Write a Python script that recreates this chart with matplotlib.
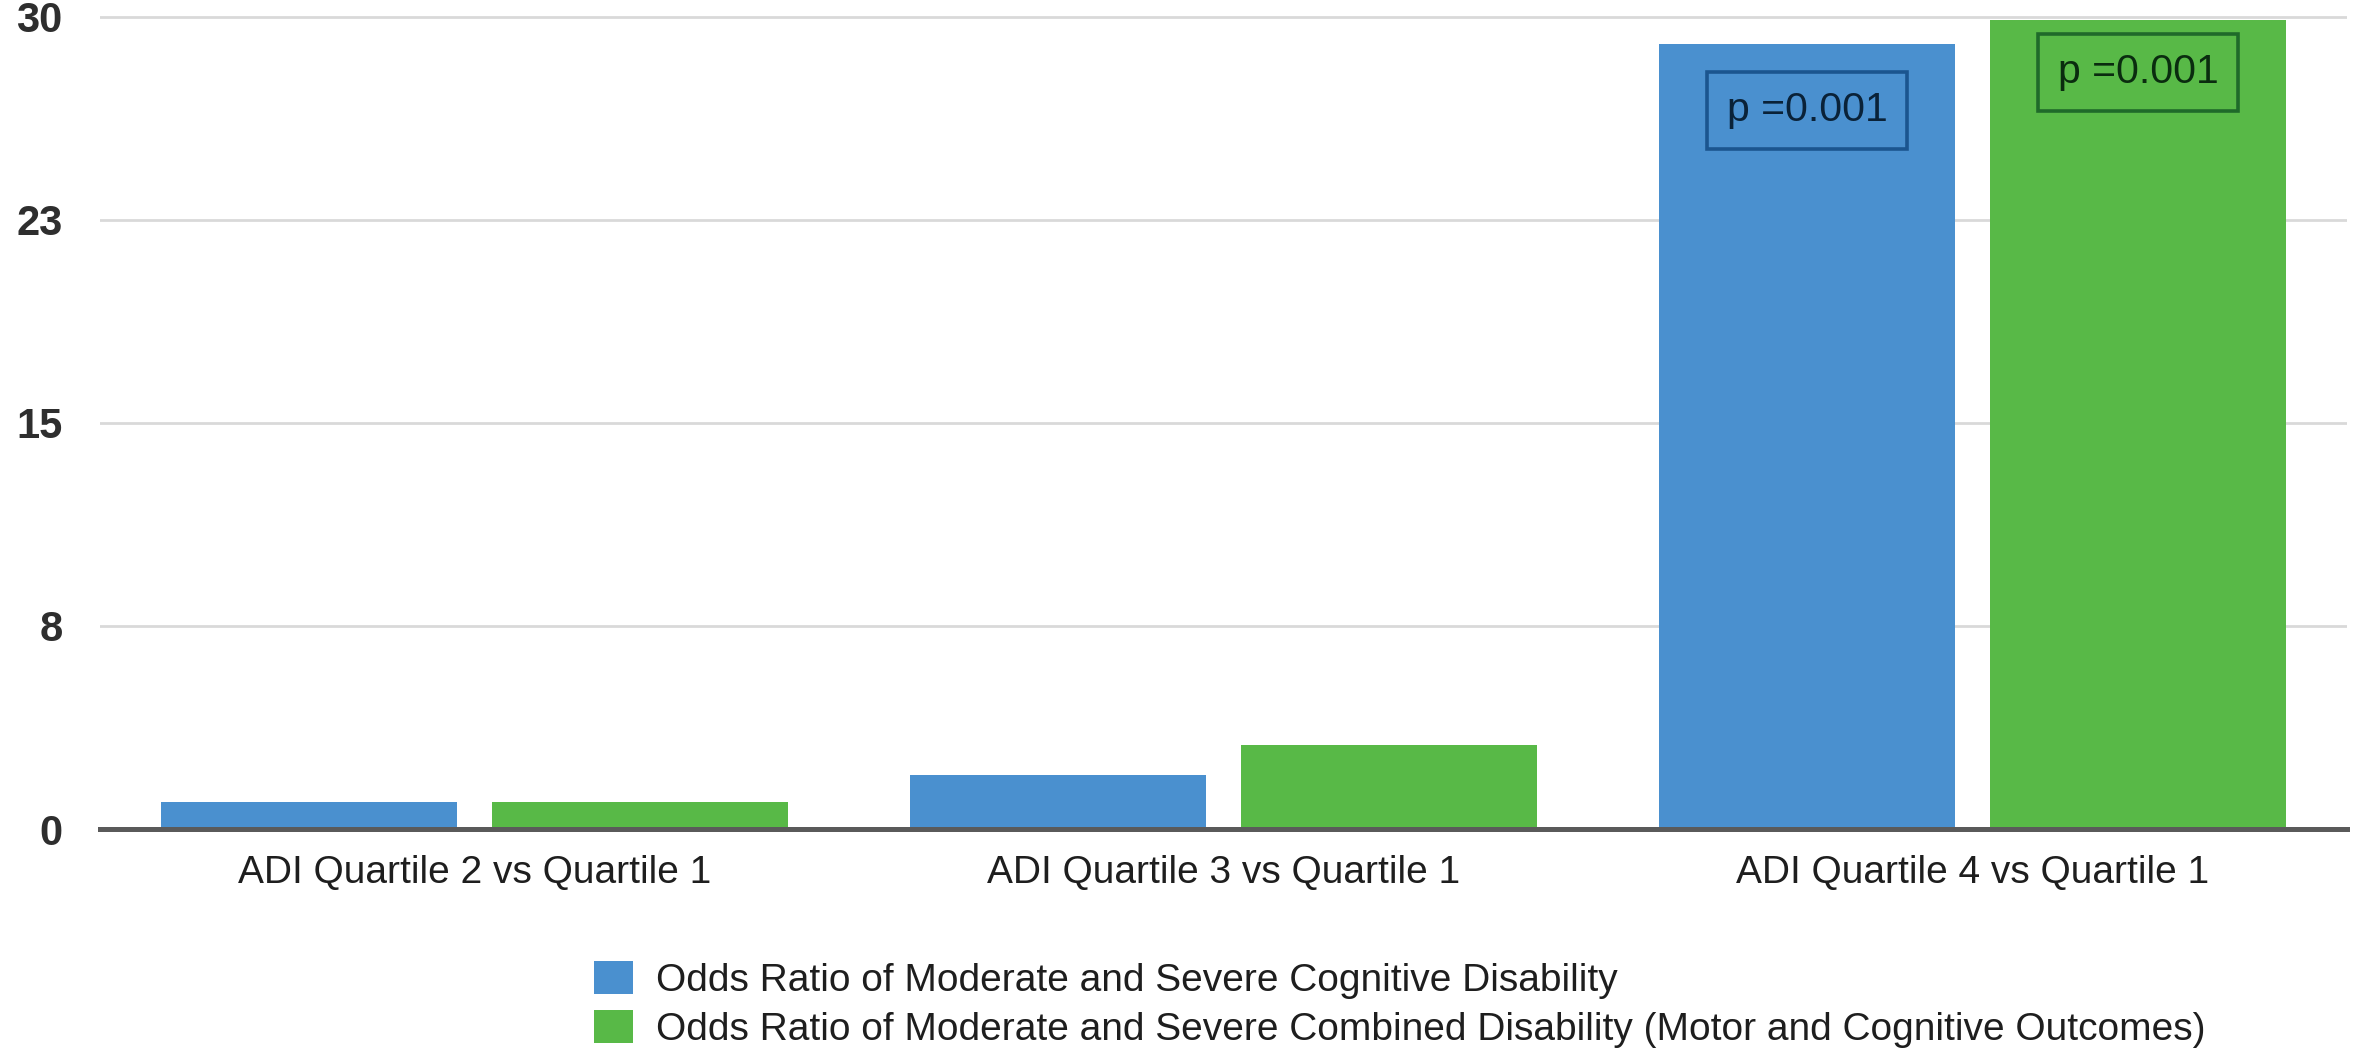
import matplotlib
matplotlib.use("Agg")
import matplotlib.pyplot as plt
import numpy as np

categories = ["ADI Quartile 2 vs Quartile 1", "ADI Quartile 3 vs Quartile 1", "ADI Quartile 4 vs Quartile 1"]
series_names = ["Odds Ratio of Moderate and Severe Cognitive Disability",
                "Odds Ratio of Moderate and Severe Combined Disability (Motor and Cognitive Outcomes)"]
cognitive = [1.0, 2.0, 29.0]
combined = [1.0, 3.1, 29.9]
ytick_values = [0, 7.5, 15, 22.5, 30]
ytick_labels = ["0", "8", "15", "23", "30"]
p_labels = ["p =0.001", "p =0.001"]
p_positions_y = [26.55, 27.95]

plt.rcParams['font.family'] = ['Liberation Sans', 'DejaVu Sans']

fig = plt.figure(figsize=(23.63, 10.63), dpi=100)
ax = fig.add_axes([0.04232, 0.22013, 0.99323 - 0.04232, 0.9866 - 0.22013])

blue = "#4a90cf"
green = "#58b947"
x = np.arange(len(categories))
w = 0.396
off = 0.221
b1 = ax.bar(x - off, cognitive, w, color=blue, label=series_names[0], zorder=2)
b2 = ax.bar(x + off, combined, w, color=green, label=series_names[1], zorder=2)

ax.set_xlim(-0.5, 2.5)
ax.set_ylim(0, 30.1)
ax.set_yticks(ytick_values)
ax.set_yticklabels(ytick_labels, fontsize=30, fontweight='bold', color='#2e2e2e')
ax.set_xticks(x)
ax.set_xticklabels(categories, fontsize=28, color='#1e1e1e')
ax.tick_params(axis='y', length=0, pad=27)
ax.tick_params(axis='x', length=0, pad=19)
for s in ax.spines.values():
    s.set_visible(False)
ax.grid(axis='y', color='#d9d9d9', linewidth=2, zorder=0)
ax.set_axisbelow(True)
ax.axhline(0, color='#5a5a5a', linewidth=3.6, zorder=3, clip_on=False)

# p-value annotations
ax.text(x[2] - off, p_positions_y[0], p_labels[0], fontsize=29.5, color='#0a2238',
        ha='center', va='center', zorder=4,
        bbox=dict(boxstyle='square,pad=0.48', facecolor='none', edgecolor='#1b558f', linewidth=2.6))
ax.text(x[2] + off, p_positions_y[1], p_labels[1], fontsize=29.5, color='#0a2c0f',
        ha='center', va='center', zorder=4,
        bbox=dict(boxstyle='square,pad=0.48', facecolor='none', edgecolor='#1f6a2a', linewidth=2.6))

fig.legend(handles=[b1, b2], labels=series_names, loc='upper left',
           bbox_to_anchor=(594 / 2363, 1 - 961 / 1063), frameon=False,
           fontsize=28, handlelength=1.0, handleheight=0.93, handletextpad=0.6,
           labelspacing=0.28, borderpad=0, borderaxespad=0, labelcolor='#1e1e1e')

fig.savefig("out.png", dpi=100)
